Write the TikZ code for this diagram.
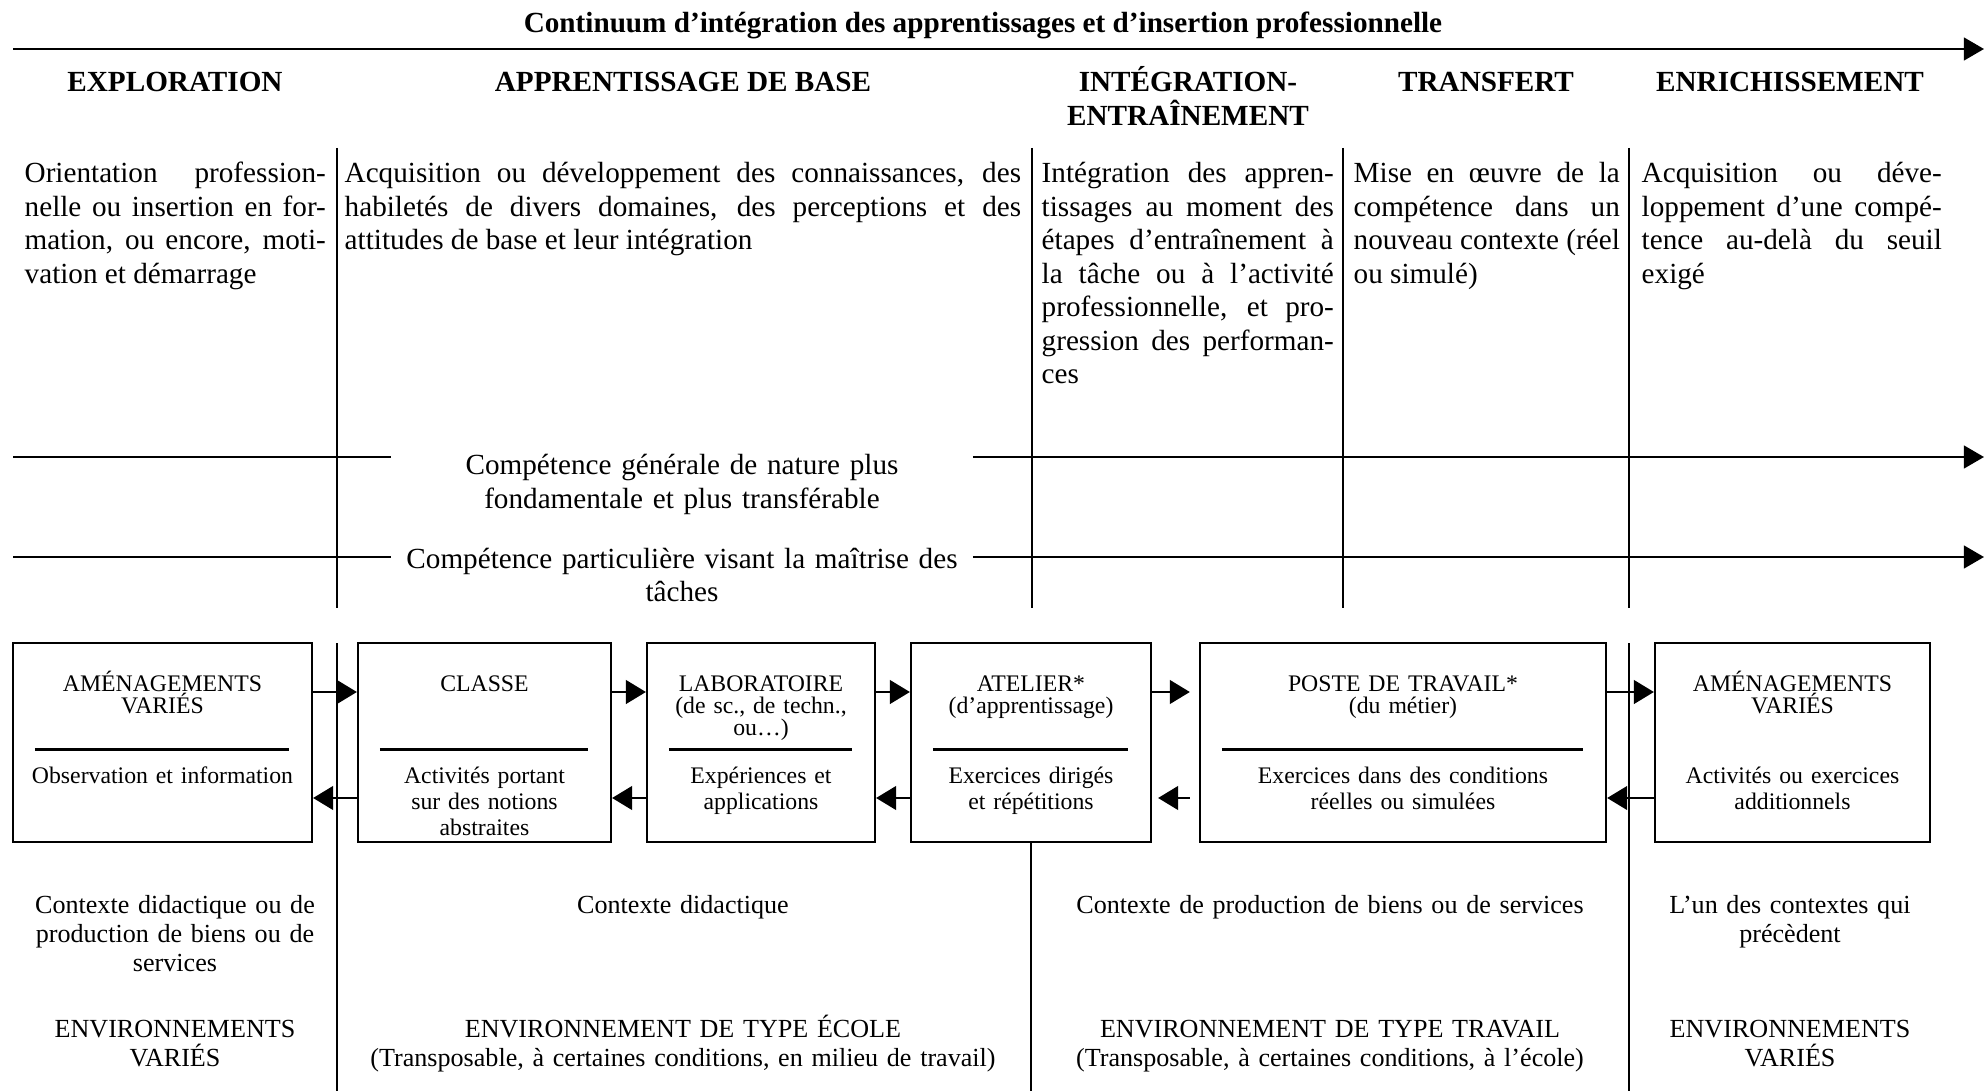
\documentclass[tikz,border=0pt]{standalone}
\usepackage{fontspec}
\setmainfont{Liberation Serif}
\usetikzlibrary{arrows.meta,calc}
\tolerance=10000
\hbadness=10000
\tikzset{
  fleche/.style={line width=.8pt,-{Triangle[length=5.7pt,width=6.4pt]}},
  trait/.style={line width=.8pt},
  colonne/.style={line width=.55pt},
  entete/.style={font=\fontsize{8.3}{9.5}\selectfont\bfseries,align=center,anchor=base,inner sep=0pt},
  texte/.style={font=\fontsize{8.3}{9.5}\selectfont,align=justify,anchor=base west,inner sep=0pt},
  comp/.style={font=\fontsize{8.3}{9.5}\selectfont,align=center,anchor=base,inner ysep=0pt,inner xsep=.1cm,text width=5.6cm},
  lieu/.style={draw,line width=.6pt,minimum height=1.99cm,inner sep=0pt},
  lieutitre/.style={font=\fontsize{6.75}{6.3}\selectfont,align=center,anchor=base,inner sep=0pt,text width=#1},
  lieutexte/.style={font=\fontsize{6.75}{7.4}\selectfont,align=center,anchor=base,inner sep=0pt,text width=#1},
  separ/.style={line width=.6pt},
  passage/.style={line width=.45pt,-{Triangle[length=5.7pt,width=6.8pt]}},
  contexte/.style={font=\fontsize{7.42}{8.3}\selectfont,align=center,anchor=base,inner sep=0pt,text width=#1},
}
\begin{document}
\begin{tikzpicture}[x=0.01cm,y=-0.01cm]
\useasboundingbox (0,0) rectangle (1984,1091);
%continuum
\node[entete] (titre) at (983,33) {Continuum d’intégration des apprentissages et d’insertion professionnelle};
\coordinate (axeG) at (13,49);
\coordinate (axeD) at (1984,49);
\draw[fleche] (axeG) -- (axeD);
%phases
\node[entete] (explo) at (175,92) {EXPLORATION};
\node[entete] (base) at (683,92) {APPRENTISSAGE DE BASE};
\node[entete,text width=3cm] (integ) at (1188,92) {INTÉGRATION-\\ENTRAÎNEMENT};
\node[entete] (transf) at (1486,92) {TRANSFERT};
\node[entete] (enrich) at (1790,92) {ENRICHISSEMENT};
\foreach \x in {337,1032,1343,1629}{
\draw[colonne] (\x,148)--(\x,608);
}
%descriptions
\node[texte,text width=3.01cm] (d1) at (24,183) {Orientation profession-\linebreak nelle ou insertion en for-\linebreak mation, ou encore, moti-\linebreak vation et démarrage};
\node[texte,text width=6.76cm] (d2) at (344,183) {Acquisition ou développement des connaissances, des\linebreak habiletés de divers domaines, des perceptions et des\linebreak attitudes de base et leur intégration};
\node[texte,text width=2.92cm] (d3) at (1041,183) {Intégration des appren-\linebreak tissages au moment des\linebreak étapes d’entraînement à\linebreak la tâche ou à l’activité\linebreak professionnelle, et pro-\linebreak gression des performan-\linebreak ces};
\node[texte,text width=2.66cm] (d4) at (1353,183) {Mise en œuvre de la\linebreak compétence dans un\linebreak nouveau contexte (réel\linebreak ou simulé)};
\node[texte,text width=3.00cm] (d5) at (1641,183) {Acquisition ou déve-\linebreak loppement d’une compé-\linebreak tence au-delà du seuil\linebreak exigé};
%competences
\node[comp] (gen) at (682,475) {Compétence générale de nature plus\\fondamentale et plus transférable};
\node[comp] (part) at (682,568) {Compétence particulière visant la maîtrise des\\tâches};
\coordinate (genG) at (13,457);
\coordinate (genD) at (1984,457);
\coordinate (partG) at (13,557);
\coordinate (partD) at (1984,557);
\draw[trait] (genG) -- (genG -| gen.west);
\draw[fleche] (gen.east |- genG) -- (genD);
\draw[trait] (partG) -- (partG -| part.west);
\draw[fleche] (part.east |- partG) -- (partD);
%lieux
\node[lieu,minimum width=2.99cm] (amen1) at (162.5,742.5) {};
\node[lieu,minimum width=2.53cm] (classe) at (484.5,742.5) {};
\node[lieu,minimum width=2.28cm] (labo) at (761,742.5) {};
\node[lieu,minimum width=2.40cm] (atelier) at (1031,742.5) {};
\node[lieu,minimum width=4.06cm] (poste) at (1403,742.5) {};
\node[lieu,minimum width=2.75cm] (amen2) at (1792.5,742.5) {};
\node[lieutitre=2.8cm] (amen1t) at (162.5,691) {AMÉNAGEMENTS\\VARIÉS};
\node[lieutitre=2.4cm] (classet) at (484.5,691) {CLASSE};
\node[lieutitre=2.2cm] (labot) at (761,691) {LABORATOIRE\\(de sc., de techn.,\\ou…)};
\node[lieutitre=2.3cm] (ateliert) at (1031,691) {ATELIER*\\(d’apprentissage)};
\node[lieutitre=3.9cm] (postet) at (1403,691) {POSTE DE TRAVAIL*\\(du métier)};
\node[lieutitre=2.6cm] (amen2t) at (1792.5,691) {AMÉNAGEMENTS\\VARIÉS};
\foreach \b in {amen1,classe,labo,atelier,poste}{
\draw[separ] ($(\b.west)+(23,7)$) -- ($(\b.east)+(-24,7)$);
}
\node[lieutexte=2.8cm] (amen1b) at (162.5,783) {Observation et information};
\node[lieutexte=2.4cm] (classeb) at (484.5,783) {Activités portant\\sur des notions\\abstraites};
\node[lieutexte=2.2cm] (labob) at (761,783) {Expériences et\\applications};
\node[lieutexte=2.3cm] (atelierb) at (1031,783) {Exercices dirigés\\et répétitions};
\node[lieutexte=3.9cm] (posteb) at (1403,783) {Exercices dans des conditions\\réelles ou simulées};
\node[lieutexte=2.6cm] (amen2b) at (1792.5,783) {Activités ou exercices\\additionnels};
%passages
\coordinate (allerY) at (0,692);
\coordinate (retourY) at (0,798);
\foreach \a/\b in {amen1/classe,classe/labo,labo/atelier,poste/amen2}{
\draw[passage] (\a.east |- allerY) -- (\b.west |- allerY);
\draw[passage] (\b.west |- retourY) -- (\a.east |- retourY);
}
\draw[passage,shorten >=.09cm] (atelier.east |- allerY) -- (poste.west |- allerY);
\draw[passage,shorten <=.09cm,shorten >=.06cm] (poste.west |- retourY) -- (atelier.east |- retourY);
\coordinate (bas) at (0,1091);
\draw[colonne] (337,643) -- (337,1091);
\draw[colonne] (1629,643) -- (1629,1091);
\draw[colonne] (atelier.south) -- (atelier.south |- bas);
%contextes
\node[contexte=3cm] (ctx1) at (175,913) {Contexte didactique ou de\\production de biens ou de\\services};
\node[contexte=5cm] (ctx2) at (683,913) {Contexte didactique};
\node[contexte=5.8cm] (ctx3) at (1330,913) {Contexte de production de biens ou de services};
\node[contexte=3.2cm] (ctx4) at (1790,913) {L’un des contextes qui\\précèdent};
\node[contexte=3cm] (env1) at (175,1037) {ENVIRONNEMENTS\\VARIÉS};
\node[contexte=6.8cm] (env2) at (683,1037) {ENVIRONNEMENT DE TYPE ÉCOLE\\(Transposable, à certaines conditions, en milieu de travail)};
\node[contexte=5.8cm] (env3) at (1330,1037) {ENVIRONNEMENT DE TYPE TRAVAIL\\(Transposable, à certaines conditions, à l’école)};
\node[contexte=3.2cm] (env4) at (1790,1037) {ENVIRONNEMENTS\\VARIÉS};
\end{tikzpicture}
\end{document}
